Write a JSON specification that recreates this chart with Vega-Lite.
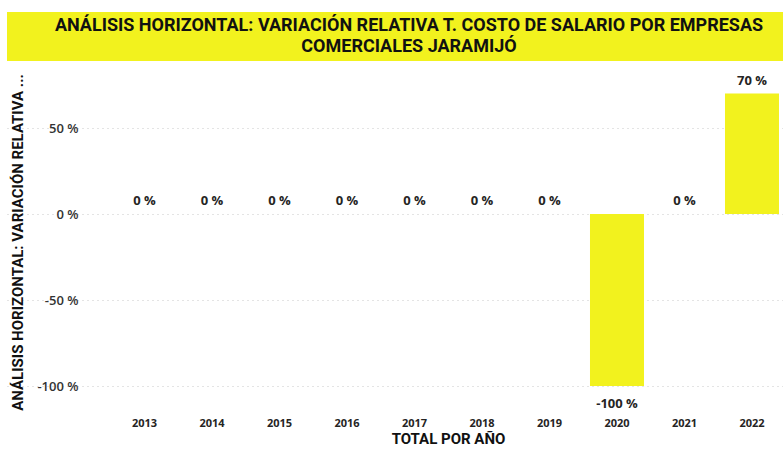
{
  "$schema": "https://vega.github.io/schema/vega-lite/v6.json",
  "padding": {"left": 7, "top": 12, "right": 0, "bottom": 0},
  "background": "white",
  "spacing": 12,
  "config": {"view": {"stroke": null}, "font": "Open Sans"},
  "datasets": {
    "titulo": [{"id": 1}],
    "main": [
      {"year": "2013", "v": 0, "label": "0 %"},
      {"year": "2014", "v": 0, "label": "0 %"},
      {"year": "2015", "v": 0, "label": "0 %"},
      {"year": "2016", "v": 0, "label": "0 %"},
      {"year": "2017", "v": 0, "label": "0 %"},
      {"year": "2018", "v": 0, "label": "0 %"},
      {"year": "2019", "v": 0, "label": "0 %"},
      {"year": "2020", "v": -100, "label": "-100 %"},
      {"year": "2021", "v": 0, "label": "0 %"},
      {"year": "2022", "v": 70, "label": "70 %"}
    ]
  },
  "vconcat": [
    {
      "data": {"name": "titulo"},
      "width": 776,
      "height": 49,
      "view": {"fill": "#F2F21E", "stroke": null},
      "mark": {
        "type": "text",
        "text": ["ANÁLISIS HORIZONTAL: VARIACIÓN RELATIVA T. COSTO DE SALARIO POR EMPRESAS", "COMERCIALES JARAMIJÓ"],
        "font": "Roboto",
        "fontWeight": "bold",
        "fontSize": 18,
        "lineHeight": 21,
        "dx": 14,
        "dy": -11,
        "color": "#111111",
        "align": "center",
        "baseline": "middle"
      },
      "encoding": {}
    },
    {
      "data": {"name": "main"},
      "width": 776,
      "height": 301,
      "encoding": {
        "x": {
          "field": "year",
          "type": "ordinal",
          "scale": {"paddingInner": 0.2, "paddingOuter": 0.848, "align": 0.965},
          "axis": {
            "title": "TOTAL POR AÑO",
            "titleFont": "Roboto",
            "titleFontSize": 15,
            "titleFontWeight": "bold",
            "titleColor": "#111111",
            "titlePadding": 3,
            "titleX": 441,
            "titleAlign": "center",
            "labelAngle": 0,
            "labelFont": "Open Sans",
            "labelFontSize": 11,
            "labelFontWeight": "bold",
            "labelColor": "#252423",
            "labelPadding": 31,
            "domain": false,
            "ticks": false,
            "grid": false
          }
        },
        "y": {
          "field": "v",
          "type": "quantitative",
          "scale": {"domain": [-100, 75], "nice": false, "zero": true},
          "axis": {
            "title": "ANÁLISIS HORIZONTAL: VARIACIÓN RELATIVA ...",
            "titleFont": "Roboto",
            "titleFontSize": 15,
            "titleFontWeight": "bold",
            "titleColor": "#111111",
            "titlePadding": 11,
            "titleY": 157,
            "offset": -80,
            "values": [-100, -50, 0, 50],
            "labelExpr": "datum.value + ' %'",
            "labelFont": "Open Sans",
            "labelFontSize": 13,
            "labelFontWeight": 600,
            "labelColor": "#333333",
            "labelPadding": 9,
            "domain": false,
            "ticks": false,
            "grid": true,
            "gridColor": "#c8c8c8",
            "gridDash": [1, 4],
            "gridWidth": 1
          }
        }
      },
      "layer": [
        {"mark": {"type": "bar", "color": "#F2F21E"}},
        {
          "transform": [{"filter": "datum.v >= 0"}],
          "mark": {"type": "text", "baseline": "alphabetic", "dy": -9, "font": "Open Sans", "fontSize": 13, "fontWeight": "bold", "color": "#252423"},
          "encoding": {"text": {"field": "label"}}
        },
        {
          "transform": [{"filter": "datum.v < 0"}],
          "mark": {"type": "text", "baseline": "alphabetic", "dy": 22, "font": "Open Sans", "fontSize": 13, "fontWeight": "bold", "color": "#252423"},
          "encoding": {"text": {"field": "label"}}
        }
      ]
    }
  ]
}
